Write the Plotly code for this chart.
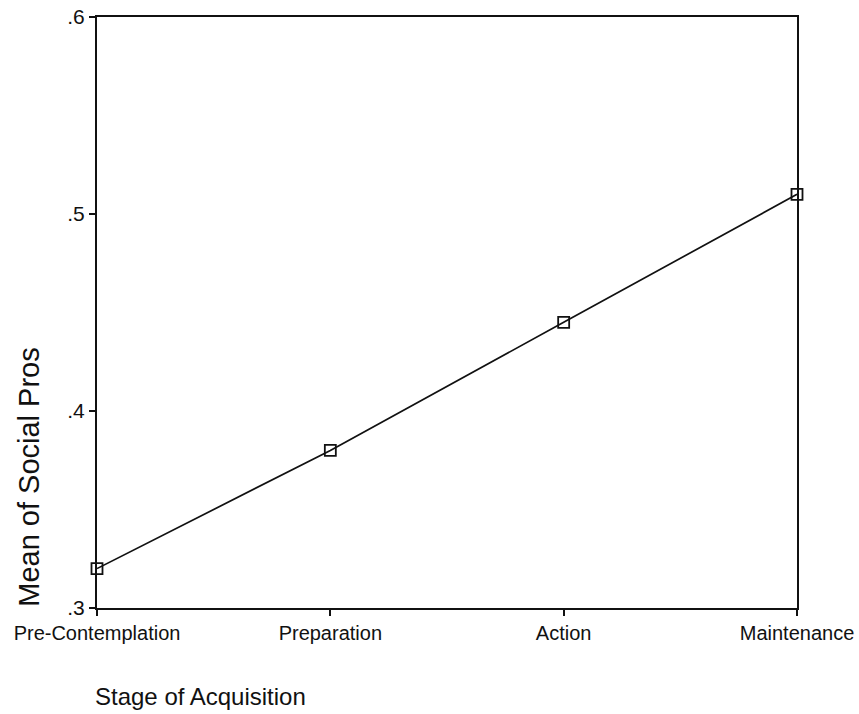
import plotly.graph_objects as go

stages = ["Pre-Contemplation", "Preparation", "Action", "Maintenance"]
means = [0.320, 0.380, 0.445, 0.510]
y_tickvals = [0.3, 0.4, 0.5, 0.6]
y_ticktext = [".3", ".4", ".5", ".6"]

FONT = "Liberation Sans, Arial, sans-serif"
INK = "#111111"

fig = go.Figure()
fig.add_trace(go.Scatter(
    x=stages, y=means, mode="lines+markers",
    line=dict(color=INK, width=1.7),
    marker=dict(symbol="square-open", size=11, color=INK, line=dict(width=1.8, color=INK)),
    showlegend=False, cliponaxis=False,
))

fig.update_layout(
    width=859, height=714,
    margin=dict(l=97, r=62, t=17, b=106),
    paper_bgcolor="white", plot_bgcolor="white",
    font=dict(family=FONT, color=INK),
)
fig.update_xaxes(
    type="category", range=[0, 3], automargin=False,
    showline=True, linecolor=INK, linewidth=2, mirror=True,
    ticks="outside", ticklen=6, tickwidth=2, tickcolor=INK,
    showgrid=False, zeroline=False,
    tickfont=dict(size=20, family=FONT, color=INK),
)
fig.update_yaxes(
    range=[0.3, 0.6], tickvals=y_tickvals, ticktext=y_ticktext, automargin=False,
    showline=True, linecolor=INK, linewidth=2, mirror=True,
    ticks="outside", ticklen=6, tickwidth=2, tickcolor=INK,
    showgrid=False, zeroline=False,
    tickfont=dict(size=21, family=FONT, color=INK),
)
fig.add_annotation(
    text="Stage of Acquisition", xref="paper", yref="paper",
    x=-(97 - 93) / 700, y=-(695 - 607) / 590, xanchor="left", yanchor="middle",
    showarrow=False, font=dict(size=24, family=FONT, color=INK),
)
fig.add_annotation(
    text="Mean of Social Pros", xref="paper", yref="paper",
    x=-(97 - 29) / 700, y=(607 - 476) / 590, xanchor="center", yanchor="middle",
    textangle=-90, showarrow=False, font=dict(size=29, family=FONT, color=INK),
)

fig.write_html("out.html")
